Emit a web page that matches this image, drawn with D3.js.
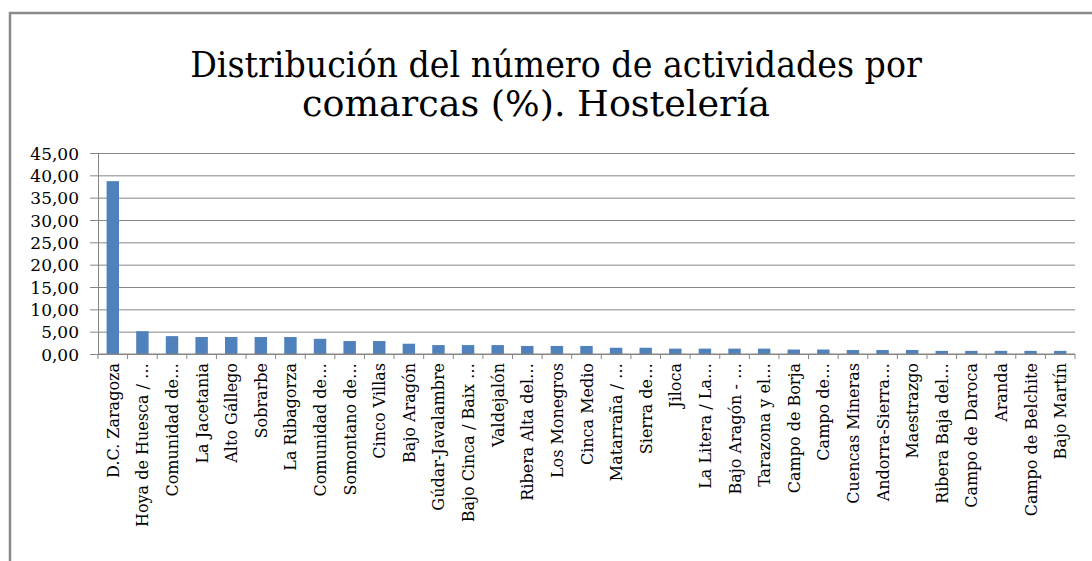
<!DOCTYPE html>
<html lang="es">
<head>
  <meta charset="UTF-8">
  <title>Distribución del número de actividades por comarcas (%). Hostelería</title>
  <script src="https://d3js.org/d3.v7.min.js"></script>
  <style>
    body {
      margin: 0;
      background: #fff;
    }
    svg {
      display: block;
    }
    .title {
      font-family: 'DejaVu Serif', serif;
      font-size: 36px;
      fill: #000;
    }
    .ylab {
      font-family: 'DejaVu Serif', serif;
      font-size: 17px;
      fill: #000;
    }
    .xlab {
      font-family: 'DejaVu Serif', serif;
      font-size: 16px;
      fill: #000;
    }
  </style>
</head>
<body>
  <svg id="chart"></svg>

  <script>
    const titleLines = ["Distribución del número de actividades por", "comarcas (%). Hostelería"];

    const comarcas = [
      "D.C. Zaragoza", "Hoya de Huesca / …", "Comunidad de…", "La Jacetania", "Alto Gállego",
      "Sobrarbe", "La Ribagorza", "Comunidad de…", "Somontano de…", "Cinco Villas",
      "Bajo Aragón", "Gúdar-Javalambre", "Bajo Cinca / Baix …", "Valdejalón", "Ribera Alta del…",
      "Los Monegros", "Cinca Medio", "Matarraña / …", "Sierra de…", "Jiloca",
      "La Litera / La…", "Bajo Aragón - …", "Tarazona y el…", "Campo de Borja", "Campo de…",
      "Cuencas Mineras", "Andorra-Sierra…", "Maestrazgo", "Ribera Baja del…", "Campo de Daroca",
      "Aranda", "Campo de Belchite", "Bajo Martín"
    ];

    const porcentajes = [
      38.7, 5.1, 4.0, 3.8, 3.8,
      3.8, 3.8, 3.4, 2.9, 2.9,
      2.3, 2.0, 2.0, 2.0, 1.8,
      1.8, 1.8, 1.4, 1.4, 1.2,
      1.2, 1.2, 1.2, 1.0, 1.0,
      0.9, 0.9, 0.9, 0.7, 0.7,
      0.7, 0.7, 0.7
    ];

    const yTicks = [0, 5, 10, 15, 20, 25, 30, 35, 40, 45];

    const width = 1092, height = 561;
    const plot = { left: 98, right: 1075, top: 153, bottom: 354 };
    const gray = "#868686";

    const svg = d3.select("#chart")
      .attr("width", width)
      .attr("height", height);

    // outer frame (only top and left edges show in the picture)
    svg.append("path")
      .attr("d", `M10,${height} L10,13 L${width},13`)
      .attr("fill", "none")
      .attr("stroke", "#8a8a8a")
      .attr("stroke-width", 2.5);

    // title lines: squeezed to the widths seen in the picture
    const titleFit = [{ cx: 556, w: 732 }, { cx: 536, w: 468 }];
    svg.selectAll(".title")
      .data(titleLines)
      .enter().append("text")
      .attr("class", "title")
      .attr("text-anchor", "middle")
      .text(d => d)
      .each(function(d, i) {
        const len = this.getComputedTextLength();
        const sx = len > 0 ? titleFit[i].w / len : 1;
        d3.select(this).attr("transform", `translate(${titleFit[i].cx},${77 + i * 39}) scale(${sx},1)`);
      });

    const x = d3.scaleBand()
      .domain(d3.range(comarcas.length))
      .range([plot.left, plot.right])
      .paddingInner(0.58)
      .paddingOuter(0.29);

    const y = d3.scaleLinear()
      .domain([0, 45])
      .range([plot.bottom, plot.top]);

    const fmt = v => d3.format(".2f")(v).replace(".", ",");

    // y axis with gridlines
    const yAxis = svg.append("g")
      .attr("transform", `translate(${plot.left},0)`)
      .call(d3.axisLeft(y)
        .tickValues(yTicks)
        .tickFormat(fmt)
        .tickSizeInner(-(plot.right - plot.left))
        .tickSizeOuter(0)
        .tickPadding(18));

    yAxis.select(".domain").attr("stroke", gray);
    yAxis.selectAll(".tick line")
      .attr("stroke", gray)
      .attr("x1", -8);
    yAxis.selectAll(".tick text")
      .attr("class", "ylab")
      .attr("x", -19)
      .attr("dy", "0.36em")
      .attr("fill", "#000");

    // bars
    svg.selectAll(".bar")
      .data(porcentajes)
      .enter().append("rect")
      .attr("class", "bar")
      .attr("x", (d, i) => x(i))
      .attr("width", x.bandwidth())
      .attr("y", d => y(d))
      .attr("height", d => y(0) - y(d))
      .attr("fill", "#4f81bd");

    // category axis: baseline and boundary ticks
    svg.append("line")
      .attr("x1", plot.left).attr("x2", plot.right)
      .attr("y1", y(0)).attr("y2", y(0))
      .attr("stroke", gray);

    const step = x.step();
    svg.selectAll(".xtick")
      .data(d3.range(comarcas.length + 1))
      .enter().append("line")
      .attr("class", "xtick")
      .attr("x1", i => plot.left + i * step)
      .attr("x2", i => plot.left + i * step)
      .attr("y1", y(0))
      .attr("y2", y(0) + 5)
      .attr("stroke", gray);

    svg.selectAll(".xlab")
      .data(comarcas)
      .enter().append("text")
      .attr("class", "xlab")
      .attr("text-anchor", "end")
      .attr("transform", (d, i) => `translate(${x(i) + x.bandwidth() / 2 + 6},${y(0) + 9}) rotate(-90)`)
      .text(d => d);
  </script>
</body>
</html>
